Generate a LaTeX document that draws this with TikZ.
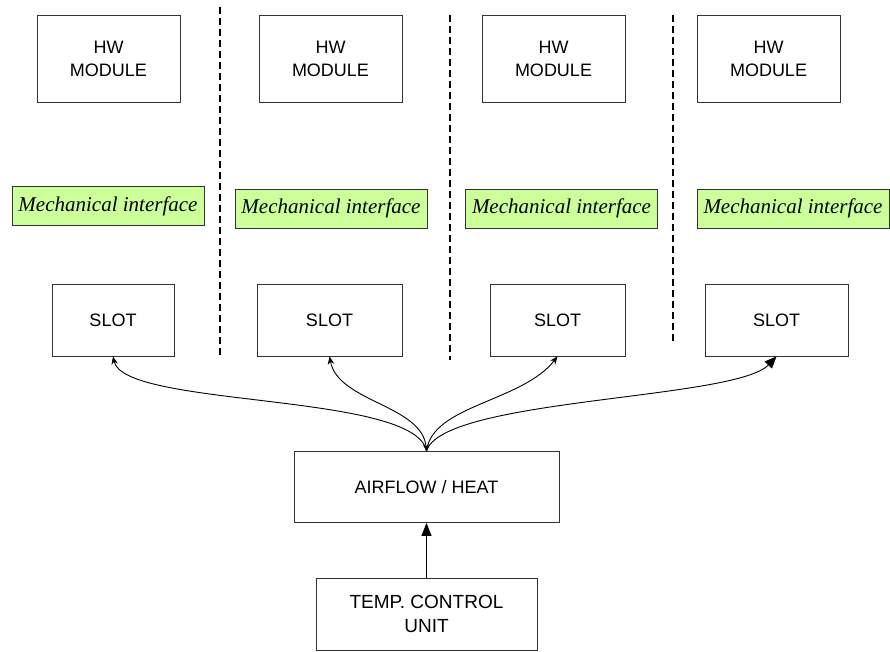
\documentclass[tikz,border=0pt]{standalone}
\usepackage{fontspec}
\setmainfont{Liberation Sans}
\newfontfamily\mechfont{Liberation Serif}
\usetikzlibrary{arrows.meta}
\definecolor{mechgreen}{RGB}{204,255,153}
\definecolor{edge}{RGB}{51,51,51}

\begin{document}
\begin{tikzpicture}[x=1pt,y=-1pt,
        box/.style={draw=edge,line width=0.8pt,inner sep=0pt,align=center,font=\fontsize{18}{23}\selectfont},
        mech/.style={draw=edge,line width=0.8pt,fill=mechgreen,inner sep=0pt,minimum width=192pt,minimum height=39pt,font=\fontsize{21}{25}\selectfont\mechfont\itshape},
        divider/.style={dash pattern=on 7pt off 4pt,line width=1.5pt},
        flow/.style={line width=0.9pt,-{Stealth[length=8pt,width=6.5pt]}}]
                \useasboundingbox (0,0) rectangle (890,651);
                % hardware modules
                \node[box,minimum width=143pt,minimum height=87pt](hw1) at (108.5,58.5){HW\\MODULE};
                \node[box,minimum width=143pt,minimum height=87pt](hw2) at (330.5,58.5){HW\\MODULE};
                \node[box,minimum width=143pt,minimum height=87pt](hw3) at (553.5,58.5){HW\\MODULE};
                \node[box,minimum width=143pt,minimum height=87pt](hw4) at (768.5,58.5){HW\\MODULE};
                % mechanical interfaces
                \node[mech](mi1) at (108,206){Mechanical interface};
                \node[mech](mi2) at (331,208.5){Mechanical interface};
                \node[mech](mi3) at (561.5,208.5){Mechanical interface};
                \node[mech](mi4) at (793,208.5){Mechanical interface};
                % slots
                \node[box,minimum width=122pt,minimum height=72pt](slot1) at (113,320){SLOT};
                \node[box,minimum width=145pt,minimum height=72pt](slot2) at (329.5,320){SLOT};
                \node[box,minimum width=135pt,minimum height=72pt](slot3) at (557.5,320){SLOT};
                \node[box,minimum width=143pt,minimum height=72pt](slot4) at (776.5,320){SLOT};
                % airflow and control
                \node[box,minimum width=265pt,minimum height=71pt](air) at (426.5,487){AIRFLOW / HEAT};
                \node[box,minimum width=221pt,minimum height=72pt,font=\fontsize{19}{24}\selectfont](ctrl) at (426.5,614){TEMP. CONTROL\\UNIT};
                % dividers
                \draw[divider](220,7) -- (220,356);
                \draw[divider](450,15) -- (450,360);
                \draw[divider](673,15) -- (673,342);
                % connectors
                \draw[flow](air.north) .. controls (416,392) and (124,408) .. (slot1.south);
                \draw[flow,{Stealth[length=7pt,width=6pt]}-{Stealth[length=8pt,width=6.5pt]}](air.north) .. controls (422,405) and (338,402) .. (slot2.south);
                \draw[flow](air.north) .. controls (432,405) and (522,402) .. (slot3.south);
                \draw[line width=0.9pt,-{Triangle[length=12pt,width=10pt]}](air.north) .. controls (442,398) and (735,400) .. (slot4.south);
                \draw[line width=0.9pt,-{Triangle[length=13pt,width=10pt]}](ctrl) -- (air);
            \end{tikzpicture}
\end{document}
